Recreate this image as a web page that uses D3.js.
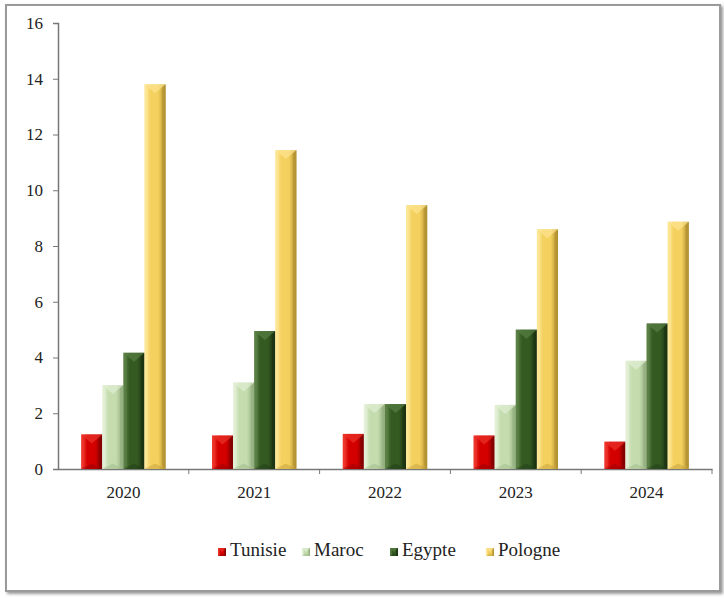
<!DOCTYPE html>
<html><head><meta charset="utf-8">
<script src="https://cdn.jsdelivr.net/npm/d3@7"></script>
<style>body{margin:0;background:#fff}svg{display:block}
text{font-family:"Liberation Serif","Times New Roman",serif;}</style>
</head><body>
<script>
const categories = ["2020","2021","2022","2023","2024"];
const seriesNames = ["Tunisie","Maroc","Egypte","Pologne"];
const tunisie = [1.24, 1.2, 1.26, 1.2, 0.98];
const maroc   = [3.01, 3.1, 2.33, 2.3, 3.88];
const egypte  = [4.17, 4.95, 2.33, 5.0, 5.22];
const pologne = [13.8, 11.44, 9.47, 8.6, 8.87];
const yTicks = [0,2,4,6,8,10,12,14,16];
const seriesValues = [tunisie, maroc, egypte, pologne];
const colors = [
  {mid:"#d40000", light:"#f03a30", dark:"#7e0000"},
  {mid:"#c4dcae", light:"#e6f2da", dark:"#93ad7e"},
  {mid:"#345a22", light:"#5e8348", dark:"#1a3010"},
  {mid:"#f4d05e", light:"#fde89a", dark:"#b09030"}
];

const W=724,H=598;
const svg=d3.select("body").append("svg").attr("width",W).attr("height",H);
const defs=svg.append("defs");
const f=defs.append("filter").attr("id","sh").attr("x","-5%").attr("y","-5%").attr("width","110%").attr("height","110%");
f.append("feDropShadow").attr("dx",2).attr("dy",2).attr("stdDeviation",1.5).attr("flood-color","#555").attr("flood-opacity",0.6);

svg.append("rect").attr("x",6).attr("y",5).attr("width",714).attr("height",586)
  .attr("fill","#fff").attr("stroke","#9a9a9a").attr("stroke-width",2).attr("filter","url(#sh)");

colors.forEach((c,i)=>{
  const g=defs.append("linearGradient").attr("id","g"+i).attr("x1","0").attr("x2","1").attr("y1","0").attr("y2","0");
  g.append("stop").attr("offset","0").attr("stop-color",c.light);
  g.append("stop").attr("offset","0.3").attr("stop-color",c.mid);
  g.append("stop").attr("offset","0.65").attr("stop-color",c.mid);
  g.append("stop").attr("offset","1").attr("stop-color",c.dark);
});

const x0=58,x1=712,yTop=23,yBot=469;
const x=d3.scaleBand().domain(categories).range([x0,x1]).paddingInner(0).paddingOuter(0);
const xs=d3.scaleBand().domain(seriesNames).range([0,x.bandwidth()]).paddingInner(0).paddingOuter(1.1);
const y=d3.scaleLinear().domain([0,16]).range([yBot,yTop]);

const yAxis=svg.append("g").attr("transform",`translate(${x0},0)`)
  .call(d3.axisLeft(y).tickValues(yTicks).tickSize(5).tickPadding(10));
yAxis.attr("font-family",null);
yAxis.select(".domain").attr("stroke","#777").attr("stroke-width",1.5);
yAxis.selectAll(".tick line").attr("stroke","#777");
yAxis.selectAll("text").style("font-family","'Liberation Serif', serif").style("font-size","17px").attr("fill","#222");

const xAxis=svg.append("g").attr("transform",`translate(0,${yBot})`)
  .call(d3.axisBottom(x).tickSize(0).tickPadding(17));
xAxis.attr("font-family",null);
xAxis.select(".domain").attr("stroke","#777").attr("stroke-width",1.5);
xAxis.selectAll("text").style("font-family","'Liberation Serif', serif").style("font-size","17px").attr("fill","#222");
xAxis.selectAll(".bt").data(categories).enter().append("line")
  .attr("x1",d=>x(d)+x.bandwidth()).attr("x2",d=>x(d)+x.bandwidth())
  .attr("y1",0).attr("y2",5).attr("stroke","#777");

function bevelBar(g, bx, by, bw, bh, i, small){
  const c=colors[i];
  g.append("rect").attr("x",bx).attr("y",by).attr("width",bw).attr("height",bh).attr("fill",`url(#g${i})`);
  const b=small?1.5:Math.min(3.5,bw/5);
  g.append("polygon").attr("points",[[bx,by],[bx+b,by+b],[bx+b,by+bh-b],[bx,by+bh]].join(" "))
    .attr("fill",c.light).attr("opacity",0.5);
  g.append("polygon").attr("points",[[bx+bw,by],[bx+bw-b,by+b],[bx+bw-b,by+bh-b],[bx+bw,by+bh]].join(" "))
    .attr("fill",c.dark).attr("opacity",0.6);
  const th=Math.min(small?4:9,bh/2);
  g.append("polygon").attr("points",[[bx,by],[bx+bw,by],[bx+bw/2,by+th]].join(" "))
    .attr("fill",c.light).attr("opacity",0.6);
  g.append("polygon").attr("points",[[bx,by+bh],[bx+bw,by+bh],[bx+bw/2,by+bh-th*0.6]].join(" "))
    .attr("fill",c.dark).attr("opacity",0.35);
}

const bars=svg.append("g");
categories.forEach((cat,ci)=>{
  seriesNames.forEach((s,si)=>{
    const v=seriesValues[si][ci];
    const bx=x(cat)+xs(s), bw=xs.bandwidth();
    bevelBar(bars,bx,y(v),bw,yBot-y(v),si,false);
  });
});

const legendX=[218,302,390,486];
const lg=svg.append("g");
seriesNames.forEach((s,i)=>{
  const gx=legendX[i], gy=556;
  bevelBar(lg,gx,gy-8,8,8,i,true);
  lg.append("text").attr("x",gx+12).attr("y",gy)
    .style("font-family","'Liberation Serif', serif").style("font-size","19px").attr("fill","#222").text(s);
});
</script>
</body></html>
